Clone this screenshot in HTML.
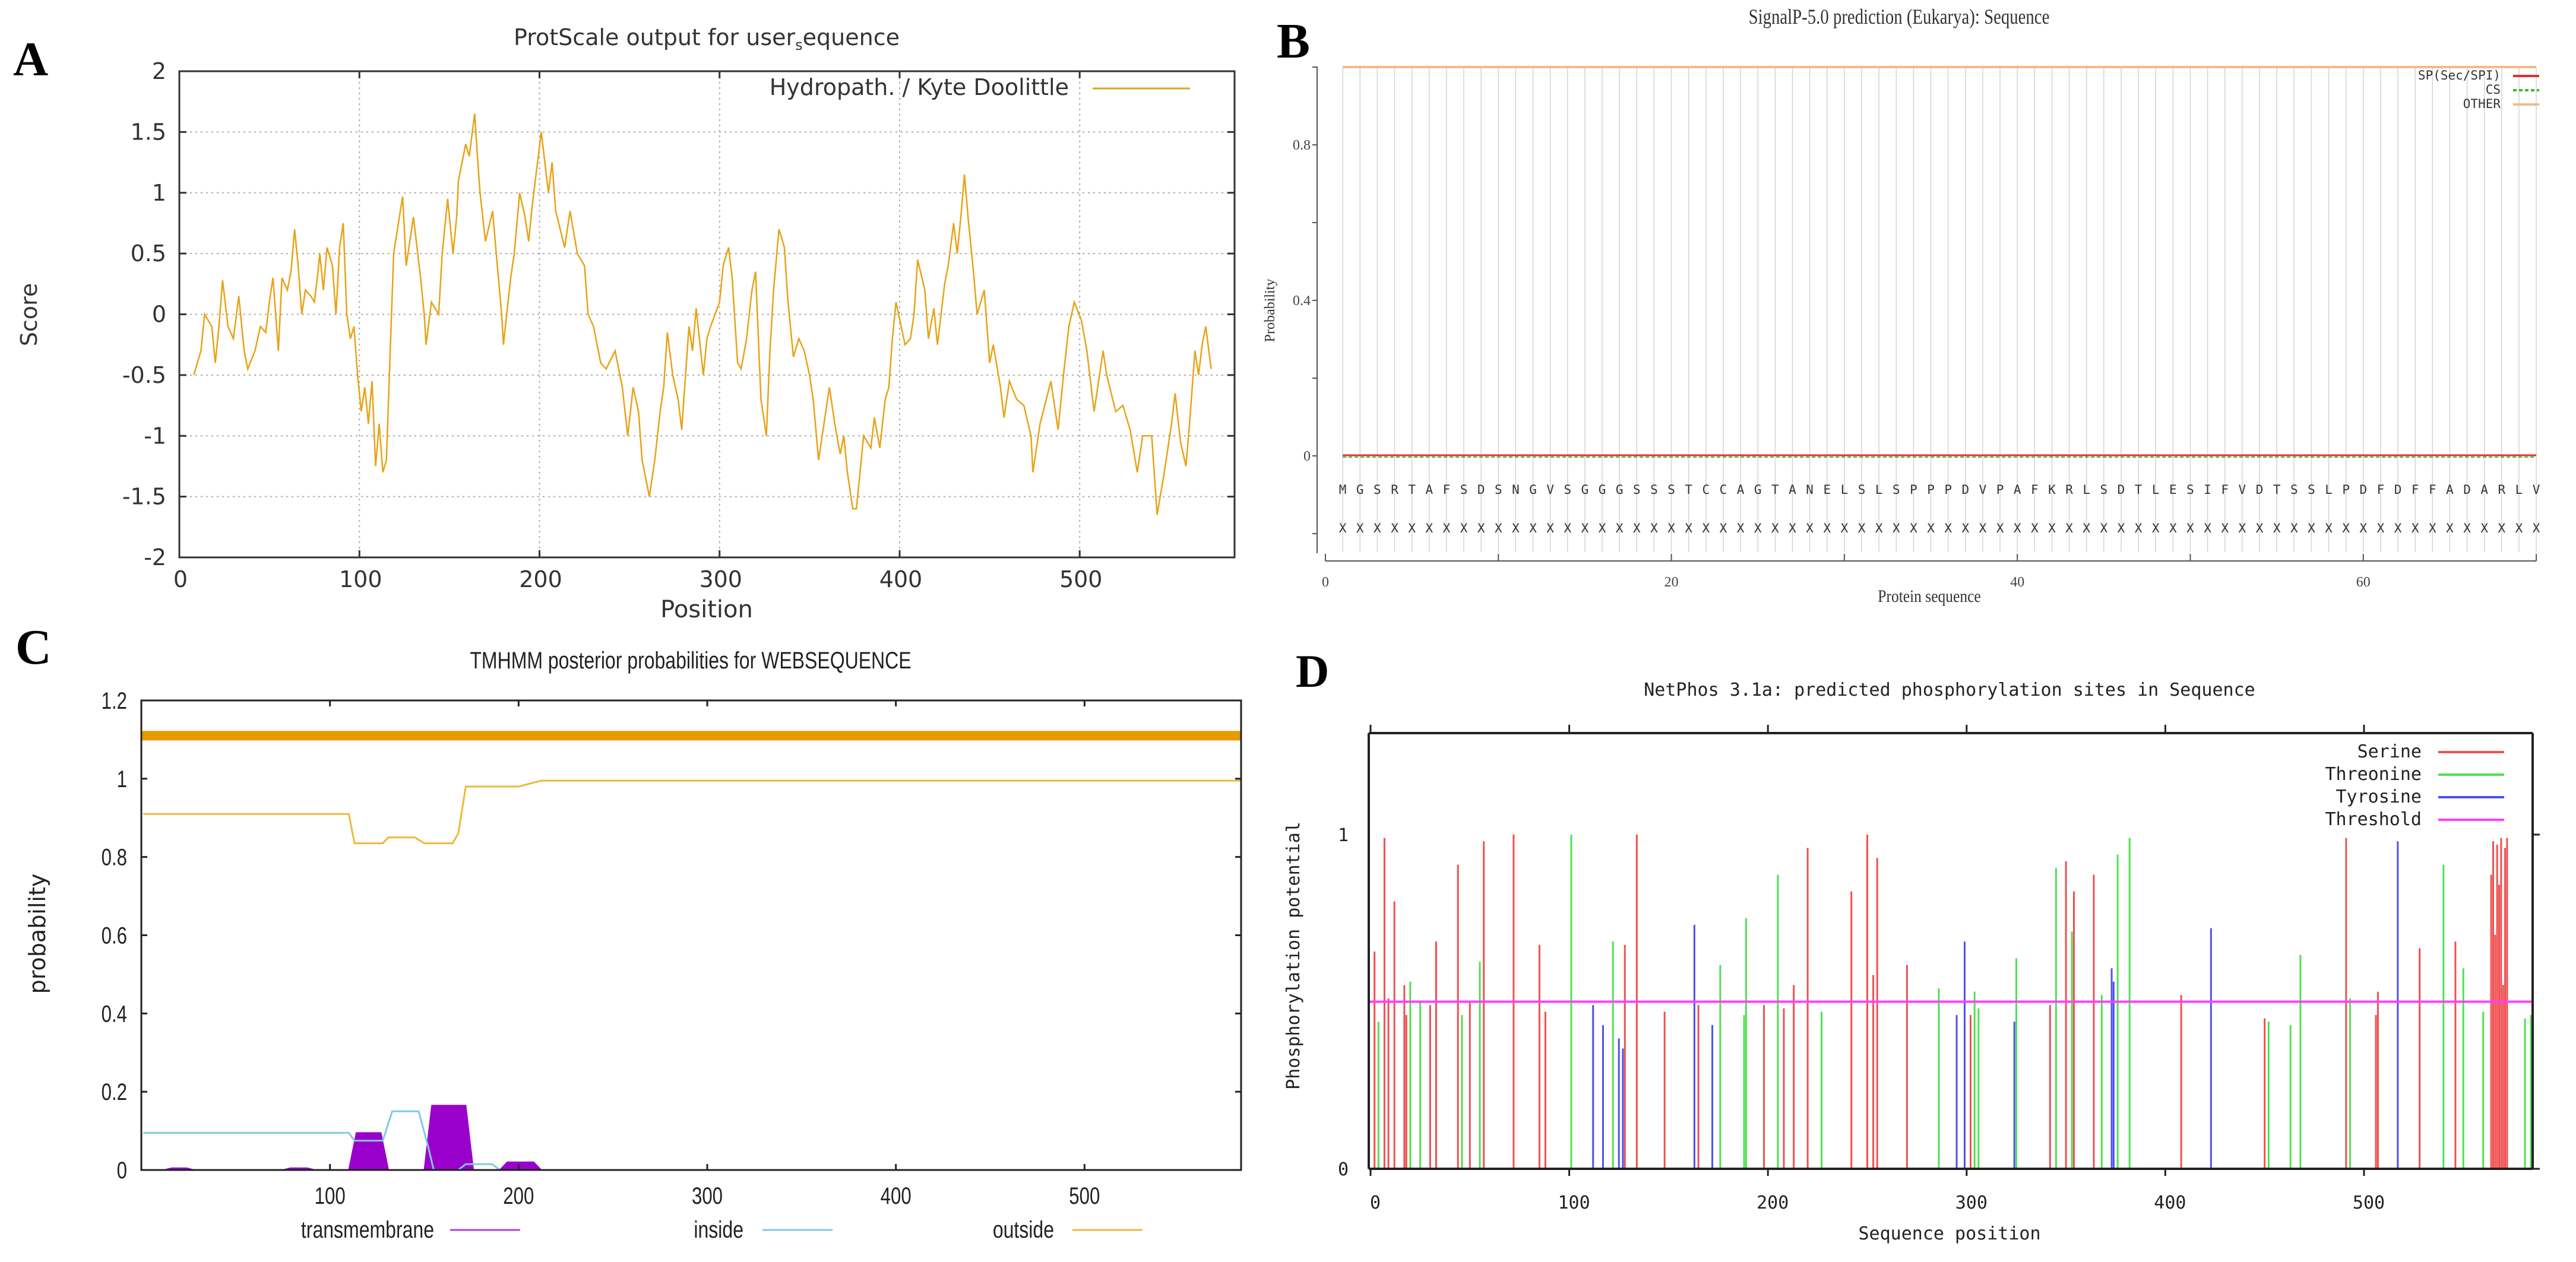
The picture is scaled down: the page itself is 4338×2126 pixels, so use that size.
<!DOCTYPE html>
<html><head><meta charset="utf-8"><style>
html,body{margin:0;padding:0;background:#fff;}
svg{display:block;}
</style></head><body>
<svg id="fig" xmlns="http://www.w3.org/2000/svg" width="4338" height="2126" viewBox="0 0 4338 2126">
<rect x="0" y="0" width="4338" height="2126" fill="#fff"/>
</svg>
<script>
// ---------- Panel A data ----------
const aPos=[8,12,14,18,20,22,24,27,30,33,36,38,42,45,48,50,52,55,57,60,62,64,66,68,70,73,75,77,78,80,82,85,87,89,91,93,95,97,99,101,103,105,107,109,111,113,115,119,124,126,130,134,136,137,140,144,146,149,152,154,155,159,161,164,166,167,170,174,176,179,180,184,186,189,192,194,196,201,205,207,209,214,217,221,225,227,230,234,237,242,246,249,252,255,257,261,264,267,269,271,274,277,279,283,285,287,291,293,295,300,302,305,307,310,312,315,318,320,321,323,326,328,330,333,336,338,341,344,347,350,352,355,358,361,364,367,369,371,374,376,378,380,384,386,389,392,394,396,398,403,406,408,410,414,416,419,421,425,427,430,432,434,436,438,441,443,447,450,452,456,458,461,465,469,473,474,478,484,488,491,494,497,501,504,508,513,515,520,524,528,532,535,540,543,547,551,553,556,559,561,564,566,568,570,573];
const aScore=[-0.5,-0.3,0.0,-0.1,-0.4,-0.1,0.28,-0.1,-0.2,0.15,-0.3,-0.45,-0.3,-0.1,-0.15,0.1,0.3,-0.3,0.3,0.2,0.35,0.7,0.4,0.0,0.2,0.15,0.1,0.35,0.5,0.2,0.55,0.4,0.0,0.55,0.75,0.0,-0.2,-0.1,-0.5,-0.8,-0.6,-0.9,-0.55,-1.25,-0.9,-1.3,-1.2,0.5,0.97,0.4,0.8,0.3,0.0,-0.25,0.1,0.0,0.5,0.95,0.5,0.8,1.1,1.4,1.3,1.65,1.2,1.0,0.6,0.85,0.5,0.0,-0.25,0.3,0.5,1.0,0.8,0.6,0.9,1.5,1.0,1.25,0.85,0.55,0.85,0.5,0.4,0.0,-0.1,-0.4,-0.45,-0.3,-0.6,-1.0,-0.6,-0.8,-1.2,-1.5,-1.2,-0.8,-0.6,-0.15,-0.5,-0.7,-0.95,-0.1,-0.3,0.05,-0.5,-0.2,-0.1,0.1,0.4,0.55,0.3,-0.4,-0.45,-0.2,0.2,0.35,0.0,-0.7,-1.0,-0.3,0.2,0.7,0.55,0.1,-0.35,-0.2,-0.3,-0.5,-0.7,-1.2,-0.9,-0.6,-0.9,-1.15,-1.0,-1.3,-1.6,-1.6,-1.3,-1.0,-1.1,-0.85,-1.1,-0.7,-0.6,-0.2,0.1,-0.25,-0.2,0.0,0.45,0.2,-0.2,0.05,-0.25,0.25,0.4,0.75,0.5,0.8,1.15,0.8,0.35,0.0,0.2,-0.4,-0.25,-0.6,-0.85,-0.55,-0.7,-0.75,-1.0,-1.3,-0.9,-0.55,-0.95,-0.5,-0.1,0.1,-0.05,-0.3,-0.8,-0.3,-0.5,-0.8,-0.75,-0.95,-1.3,-1.0,-1.0,-1.65,-1.3,-0.9,-0.65,-1.05,-1.25,-0.9,-0.3,-0.5,-0.25,-0.1,-0.45];
const aXTicks=[0,100,200,300,400,500];
const aYTicks=[2,1.5,1,0.5,0,-0.5,-1,-1.5,-2];

// ---------- Panel B data ----------
const bSeq="MGSRTAFSDSNGVSGGGSSSTCCAGTANELSLSPPPDVPAFKRLSDTLESIFVDTSSLPDFDFFADARLV".split("");
const bOther=1.0, bSP=0.0, bCS=0.0;
const bXTicks=[0,20,40,60];
const bYTicks=[0.8,0.4,0];

// ---------- Panel C data ----------
const cOutPos=[1,110,113,128,131,145,150,165,168,172,200,212,583];
const cOutVal=[0.91,0.91,0.835,0.835,0.85,0.85,0.835,0.835,0.86,0.98,0.98,0.995,0.995];
const cInPos=[1,110,113,128,133,147,152,155,168,172,186,190,583];
const cInVal=[0.095,0.095,0.075,0.075,0.15,0.15,0.06,0.0,0.0,0.015,0.015,0.0,0.0];
const cTmStart=[12,75,110,150,190];
const cTmEnd=[28,92,131,176,212];
const cTmVal=[0.005,0.005,0.095,0.165,0.02];
const cXTicks=[100,200,300,400,500];
const cYTicks=[0,0.2,0.4,0.6,0.8,1,1.2];

// ---------- Panel D data ----------
const dSerPos=[2,7,9,12,17,18,30,33,44,50,57,72,85,88,128,134,148,165,198,208,213,220,242,250,253,255,270,302,342,350,354,364,408,450,491,506,507,528,546,564,565,566,567,568,569,570,571,572];
const dSerVal=[0.65,0.99,0.51,0.80,0.55,0.46,0.49,0.68,0.91,0.5,0.98,1.0,0.67,0.47,0.67,1.0,0.47,0.49,0.49,0.48,0.55,0.96,0.83,1.0,0.58,0.93,0.61,0.46,0.49,0.92,0.83,0.88,0.52,0.45,0.99,0.46,0.53,0.66,0.68,0.88,0.98,0.7,0.97,0.85,0.99,0.55,0.96,0.99];
const dThrPos=[4,20,25,46,55,101,122,176,188,189,205,227,286,304,306,325,345,353,368,376,382,452,463,468,493,540,550,560,581,584];
const dThrVal=[0.44,0.56,0.5,0.46,0.62,1.0,0.68,0.61,0.46,0.75,0.88,0.47,0.54,0.53,0.48,0.63,0.9,0.71,0.52,0.94,0.99,0.44,0.43,0.64,0.51,0.91,0.6,0.47,0.45,0.46];
const dTyrPos=[112,117,125,127,163,172,295,299,324,373,374,423,517];
const dTyrVal=[0.49,0.43,0.39,0.36,0.73,0.43,0.46,0.68,0.44,0.6,0.56,0.72,0.98];
const dThreshold=0.5;
const dXTicks=[0,100,200,300,400,500];
const dYTicks=[0,1];

// ---------- helpers ----------
const NS='http://www.w3.org/2000/svg';
const svg=document.getElementById('fig');
function mk(tag,attrs,parent){const e=document.createElementNS(NS,tag);for(const k in attrs)e.setAttribute(k,attrs[k]);(parent||svg).appendChild(e);return e;}
function txt(x,y,s,size,fam,anchor,fill,parent,extra){const t=mk('text',Object.assign({x:x,y:y,'font-size':size,'font-family':fam,'text-anchor':anchor||'middle',fill:fill||'#222'},extra||{}),parent);t.textContent=s;return t;}
const SANS='"DejaVu Sans","Liberation Sans",sans-serif';
const SERIF='"Liberation Serif",serif';
const MONO='"DejaVu Sans Mono","Liberation Mono",monospace';
const NARROW='"Liberation Sans",sans-serif';

// panel letters
[['A',22,127,82],['B',2150,97,84],['C',26,1118,84],['D',2182,1157,78]].forEach(p=>{
  const t=txt(p[1],p[2],p[0],p[3],SERIF,'start','#000',svg,{'font-weight':'bold'});
  
  
});

// ================= Panel A =================
(function(){
  const g=mk('g',{});
  
  
  const L=302,R=2079,T=120,B=939;
  const xs=v=>L+v*(R-L)/586;
  const ys=v=>T+(2-v)*(B-T)/4;
  const grid=mk('g',{},g);
  
  
  aXTicks.forEach(v=>{ if(v>0) mk('line',{x1:xs(v),x2:xs(v),y1:T,y2:B,stroke:'#aaa','stroke-width':2,'stroke-dasharray':'3,6'},grid);});
  aYTicks.forEach(v=>{ if(v<2&&v>-2) mk('line',{x1:L,x2:R,y1:ys(v),y2:ys(v),stroke:'#aaa','stroke-width':2,'stroke-dasharray':'3,6'},grid);});
  const fr=mk('rect',{x:L,y:T,width:R-L,height:B-T,fill:'none',stroke:'#333','stroke-width':3},g);
  
  
  aYTicks.forEach(v=>{
    mk('line',{x1:L,x2:L+12,y1:ys(v),y2:ys(v),stroke:'#333','stroke-width':3},g);
    mk('line',{x1:R,x2:R-12,y1:ys(v),y2:ys(v),stroke:'#333','stroke-width':3},g);
    const t=txt(L-22,ys(v)+13,String(v),38,SANS,'end','#333',g);
    
    
  });
  aXTicks.forEach(v=>{
    mk('line',{x1:xs(v),x2:xs(v),y1:B,y2:B-12,stroke:'#333','stroke-width':3},g);
    mk('line',{x1:xs(v),x2:xs(v),y1:T,y2:T+12,stroke:'#333','stroke-width':3},g);
    const t=txt(xs(v)+2,B+50,String(v),38,SANS,'middle','#333',g);
    
    
  });
  const pts=aPos.map((p,i)=>xs(p).toFixed(1)+','+ys(aScore[i]).toFixed(1)).join(' ');
  const ln=mk('polyline',{points:pts,fill:'none',stroke:'#e8a317','stroke-width':2.5},g);
  
  
  const tt=txt(1190,76,'',38,SANS,'middle','#333',g);
  tt.innerHTML='ProtScale output for user<tspan font-size="24" dy="8">s</tspan><tspan dy="-8">equence</tspan>';
  
  
  const yl=txt(0,0,'Score',38,SANS,'middle','#333',g,{transform:'translate(62,530) rotate(-90)'});
  
  
  const xl=txt(1190,1040,'Position',40,SANS,'middle','#333',g);
  
  
  const lg=txt(1800,160,'Hydropath. / Kyte  Doolittle',38,SANS,'end','#333',g);
  
  
  mk('line',{x1:1840,x2:2004,y1:149,y2:149,stroke:'#e8a317','stroke-width':3},g);
})();

// ================= Panel B =================
(function(){
  const g=mk('g',{});
  
  
  const X0=2232,U=29.13,Y0=768,YU=655;
  const xs=v=>X0+v*U, ys=v=>Y0-v*YU;
  const vg=mk('g',{},g);
  
  
  bSeq.forEach((c,i)=>{ mk('line',{x1:xs(i+1),x2:xs(i+1),y1:114,y2:930,stroke:'#d4d4d4','stroke-width':1.5},vg);});
  mk('line',{x1:2218,x2:2218,y1:112,y2:932,stroke:'#555','stroke-width':2},g);
  [1,0.8,0.6,0.4,0.2,0,-0.2].forEach(v=>mk('line',{x1:2210,x2:2218,y1:ys(v),y2:ys(v),stroke:'#555','stroke-width':2},g));
  bYTicks.forEach(v=>{const t=txt(2207,ys(v)+8,String(v),24,SERIF,'end','#444',g);});
  mk('line',{x1:X0,x2:xs(70),y1:945,y2:945,stroke:'#555','stroke-width':2},g);
  [0,10,20,30,40,50,60,70].forEach(v=>mk('line',{x1:xs(v),x2:xs(v),y1:945,y2:933,stroke:'#555','stroke-width':2},g));
  bXTicks.forEach(v=>{const t=txt(xs(v),988,String(v),24,SERIF,'middle','#444',g);});
  const o=mk('line',{x1:xs(1),x2:xs(70),y1:ys(bOther),y2:ys(bOther),stroke:'#f5b88a','stroke-width':4},g);
  
  
  const s=mk('line',{x1:xs(1),x2:xs(70),y1:ys(bSP)-1,y2:ys(bSP)-1,stroke:'#e03030','stroke-width':3},g);
  
  
  const c=mk('line',{x1:xs(1),x2:xs(70),y1:ys(bCS)+2,y2:ys(bCS)+2,stroke:'#33bb33','stroke-width':2,'stroke-dasharray':'6,4'},g);
  
  
  bSeq.forEach((ch,i)=>{
    const t=txt(xs(i+1),832,ch,21,MONO,'middle','#333',g);
    
    
    const x=txt(xs(i+1),897,'X',21,MONO,'middle','#333',g);
    
    
  });
  const tt=txt(3198,40,'SignalP-5.0 prediction (Eukarya):  Sequence',36,SERIF,'middle','#333',g,{transform:'translate(3198,0) scale(0.8,1) translate(-3198,0)'});
  
  
  const xl=txt(3249,1014,'Protein sequence',30,SERIF,'middle','#333',g,{transform:'translate(3249,0) scale(0.85,1) translate(-3249,0)'});
  
  
  const yl=txt(0,0,'Probability',24,SERIF,'middle','#333',g,{transform:'translate(2146,523) rotate(-90)'});
  
  
  [['SP(Sec/SPI)',134,'#e03030',''],['CS',158,'#33bb33','6,4'],['OTHER',182,'#f5b88a','']].forEach(r=>{
    const t=txt(4211,r[1],r[0],21,MONO,'end','#333',g);
    
    
    mk('line',{x1:4232,x2:4276,y1:r[1]-6,y2:r[1]-6,stroke:r[2],'stroke-width':4,'stroke-dasharray':r[3]||'none'},g);
  });
})();

// ================= Panel C =================
(function(){
  const g=mk('g',{});
  
  
  const L=238,R=2090,T=1180,B=1971;
  const xs=v=>L+v*(R-L)/583;
  const ys=v=>B-v*(B-T)/1.2;
  const tm=mk('g',{},g);
  
  
  cTmStart.forEach((s,i)=>{
    const e=cTmEnd[i],v=cTmVal[i],w=Math.min(4,(e-s)/4);
    mk('polygon',{points:[xs(s),B,xs(s+w),ys(v),xs(e-w),ys(v),xs(e),B].map(n=>n.toFixed(1)).join(' '),fill:'#9a00cc',stroke:'#9a00cc','stroke-width':2},tm);
  });
  const ip=[];cInPos.forEach((p,i)=>ip.push(xs(p).toFixed(1)+','+ys(cInVal[i]).toFixed(1)));
  const il=mk('polyline',{points:ip.join(' '),fill:'none',stroke:'#7fc8ea','stroke-width':3},g);
  
  
  const op=[];cOutPos.forEach((p,i)=>op.push(xs(p).toFixed(1)+','+ys(cOutVal[i]).toFixed(1)));
  const ol=mk('polyline',{points:op.join(' '),fill:'none',stroke:'#f0b73a','stroke-width':3},g);
  
  
  const th=mk('line',{x1:L,x2:R,y1:ys(1.11),y2:ys(1.11),stroke:'#e69a00','stroke-width':16},g);
  
  
  const fr=mk('rect',{x:L,y:T,width:R-L,height:B-T,fill:'none',stroke:'#222','stroke-width':3},g);
  
  
  cYTicks.forEach(v=>{
    mk('line',{x1:L,x2:L+10,y1:ys(v),y2:ys(v),stroke:'#222','stroke-width':3},g);
    mk('line',{x1:R,x2:R-10,y1:ys(v),y2:ys(v),stroke:'#222','stroke-width':3},g);
    const t=txt(0,0,String(v),40,NARROW,'end','#222',g,{transform:'translate(214,'+(ys(v)+14)+') scale(0.78,1)'});
    
    
  });
  cXTicks.forEach(v=>{
    mk('line',{x1:xs(v),x2:xs(v),y1:B,y2:B-10,stroke:'#222','stroke-width':3},g);
    mk('line',{x1:xs(v),x2:xs(v),y1:T,y2:T+10,stroke:'#222','stroke-width':3},g);
    const t=txt(0,0,String(v),40,NARROW,'middle','#222',g,{transform:'translate('+xs(v)+',2028) scale(0.78,1)'});
    
    
  });
  const tt=txt(0,0,'TMHMM posterior probabilities for WEBSEQUENCE',40,NARROW,'middle','#222',g,{transform:'translate(1163,1126) scale(0.8,1)'});
  
  
  const yl=txt(0,0,'probability',38,SANS,'middle','#222',g,{transform:'translate(76,1573) rotate(-90)'});
  
  
  [['transmembrane',731,758,'#b040e0'],['inside',1252,1284,'#7fc8ea'],['outside',1775,1806,'#f0b73a']].forEach(r=>{
    const t=txt(0,0,r[0],40,NARROW,'end','#222',g,{transform:'translate('+r[1]+',2085) scale(0.8,1)'});
    
    
    mk('line',{x1:r[2],x2:r[2]+118,y1:2072,y2:2072,stroke:r[3],'stroke-width':3},g);
  });
})();

// ================= Panel D =================
(function(){
  const g=mk('g',{});
  
  
  const L=2305,R=4265,T=1235,B=1969;
  const X0=2308,XU=3.346,YU=563;
  const xs=v=>X0+v*XU, ys=v=>B-v*YU;
  function bars(pos,val,col,name){
    const bg=mk('g',{},g);
    
    
    pos.forEach((p,i)=>{ mk('line',{x1:xs(p),x2:xs(p),y1:B,y2:ys(val[i]),stroke:col,'stroke-width':3},bg);});
  }
  bars(dSerPos,dSerVal,'#f05050','serine-bars');
  bars(dThrPos,dThrVal,'#50e050','threonine-bars');
  bars(dTyrPos,dTyrVal,'#5050f0','tyrosine-bars');
  const th=mk('line',{x1:L,x2:R,y1:ys(dThreshold),y2:ys(dThreshold),stroke:'#ff40ff','stroke-width':4},g);
  
  
  mk('line',{x1:L,x2:L,y1:T,y2:B,stroke:'#222','stroke-width':4},g);
  mk('line',{x1:R,x2:R,y1:T,y2:B,stroke:'#222','stroke-width':4},g);
  mk('line',{x1:L,x2:R,y1:T,y2:T,stroke:'#222','stroke-width':4},g);
  mk('line',{x1:L,x2:R,y1:B,y2:B,stroke:'#222','stroke-width':4},g);
  dXTicks.forEach(v=>{
    mk('line',{x1:xs(v),x2:xs(v),y1:B,y2:B+12,stroke:'#222','stroke-width':3},g);
    mk('line',{x1:xs(v),x2:xs(v),y1:T,y2:T-14,stroke:'#222','stroke-width':3},g);
    const t=txt(xs(v)+8,2036,String(v),30,MONO,'middle','#222',g);
    
    
  });
  dYTicks.forEach(v=>{
    mk('line',{x1:R,x2:R+12,y1:ys(v),y2:ys(v),stroke:'#222','stroke-width':3},g);
    const t=txt(2262,ys(v)+11,String(v),30,MONO,'middle','#222',g);
    
    
  });
  const tt=txt(3283,1172,'NetPhos 3.1a: predicted phosphorylation sites in Sequence',30,MONO,'middle','#222',g);
  
  
  const xl=txt(3283,2088,'Sequence position',30,MONO,'middle','#222',g);
  
  
  const yl=txt(0,0,'Phosphorylation potential',30,MONO,'middle','#222',g,{transform:'translate(2188,1610) rotate(-90)'});
  
  
  [['Serine',1267,'#f05050'],['Threonine',1305,'#50e050'],['Tyrosine',1343,'#5050f0'],['Threshold',1381,'#ff40ff']].forEach(r=>{
    const t=txt(4078,r[1]+9,r[0],30,MONO,'end','#222',g);
    
    
    mk('line',{x1:4106,x2:4217,y1:r[1],y2:r[1],stroke:r[2],'stroke-width':4},g);
  });
})();
</script>
</body></html>
